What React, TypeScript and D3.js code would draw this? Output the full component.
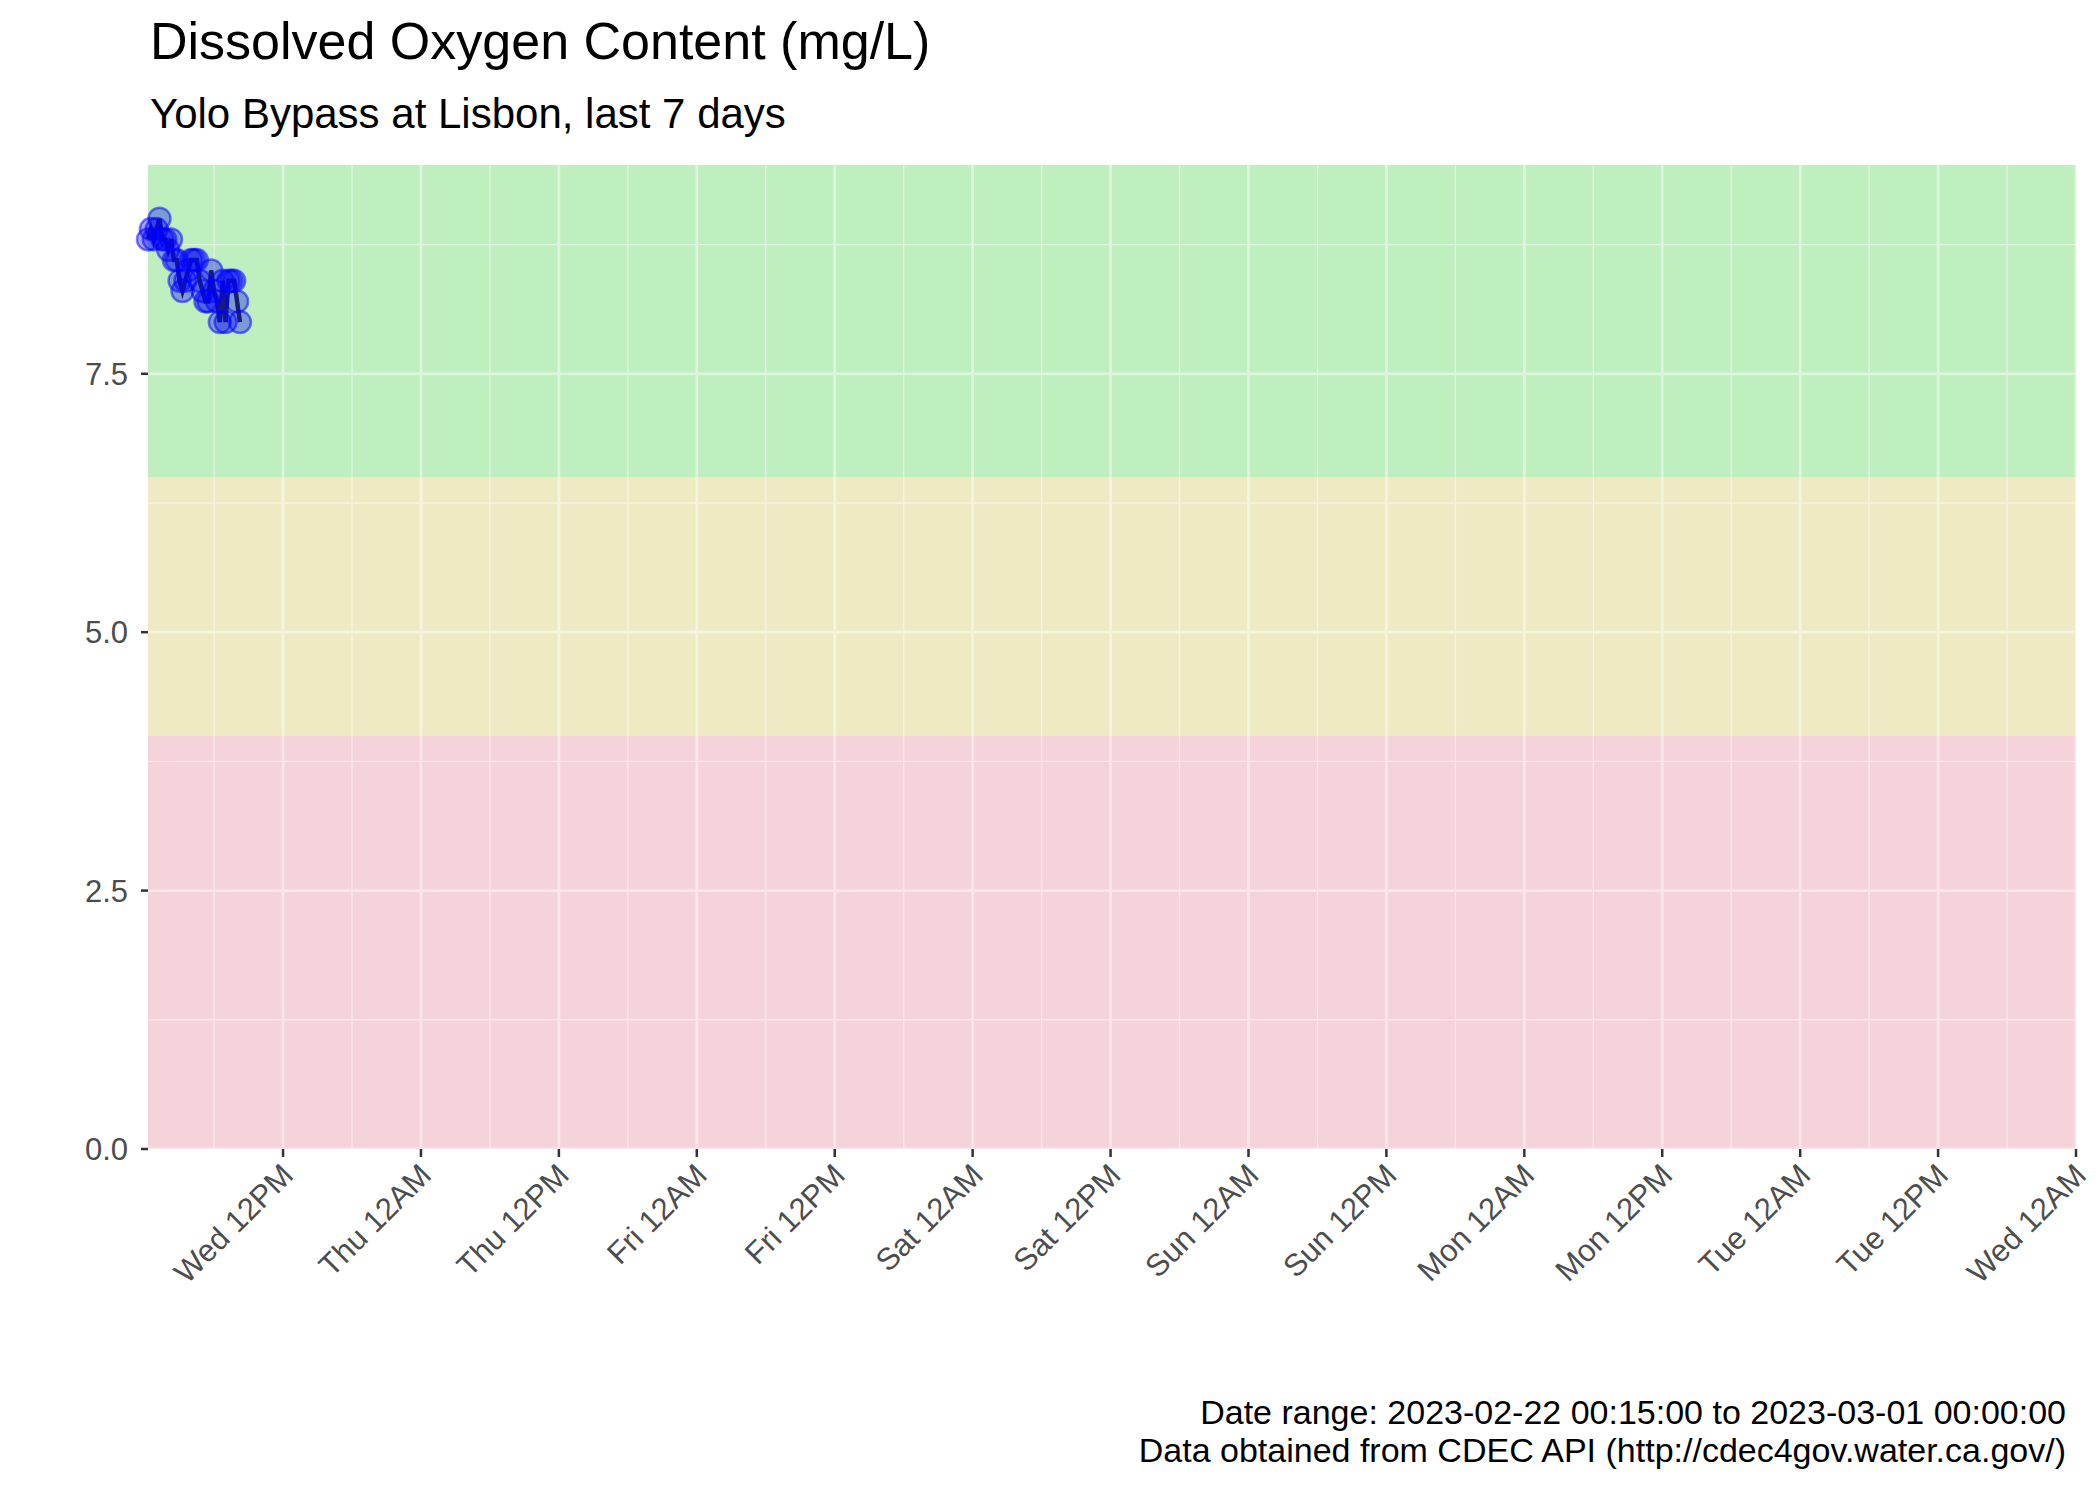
import * as React from "react";
import * as d3 from "d3";

const START = new Date(2023, 1, 22, 0, 15);
const END = new Date(2023, 2, 1, 0, 0);
// dissolved oxygen readings, every 15 minutes from START
const doValues = [
  8.8, 8.9, 8.8, 8.9, 9.0, 8.8, 8.8, 8.7, 8.8, 8.6, 8.6, 8.4, 8.3, 8.4, 8.5, 8.6, 8.6,
  8.6, 8.4, 8.3, 8.2, 8.2, 8.5, 8.3, 8.2, 8.0, 8.4, 8.0, 8.4, 8.4, 8.4, 8.2, 8.0,
];
const bands = [
  { lo: 0, hi: 4, color: "#f5d3da" },
  { lo: 4, hi: 6.5, color: "#eeebc4" },
  { lo: 6.5, hi: 9.52, color: "#bfeebf" },
];
const yTicks = [0, 2.5, 5, 7.5];
const dayNames = ["Sun", "Mon", "Tue", "Wed", "Thu", "Fri", "Sat"];

const W = 2100, H = 1500;
const M = { left: 148, right: 2076, top: 165, bottom: 1149 };

export default function App() {
  const data = doValues.map((v, i) => ({ t: new Date(START.getTime() + i * 15 * 60000), v }));
  const x = d3.scaleTime().domain([START, END]).range([M.left, M.right]);
  const y = d3.scaleLinear().domain([0, 9.52]).range([M.bottom, M.top]);
  const majorX = d3.timeHour.every(12)!.range(START, new Date(END.getTime() + 1));
  const minorX = d3.timeHour.every(6)!.range(START, new Date(END.getTime() + 1)).filter((d) => d.getHours() % 12 !== 0);
  const minorY = [1.25, 3.75, 6.25, 8.75];
  const line = d3.line<{ t: Date; v: number }>().x((d) => x(d.t)).y((d) => y(d.v));
  const font = "Liberation Sans, Arial, sans-serif";
  const fmt = (d: Date) => `${dayNames[d.getDay()]} 12${d.getHours() < 12 ? "AM" : "PM"}`;

  return (
    <svg width={W} height={H} style={{ position: "absolute", left: 0, top: 0 }} fontFamily={font}>
      <rect width={W} height={H} fill="#fff" />
      <rect x={M.left} y={M.top} width={M.right - M.left} height={M.bottom - M.top} fill="#ebebeb" />
      {bands.map((b) => (
        <rect key={b.lo} x={M.left} width={M.right - M.left} y={y(b.hi)} height={y(b.lo) - y(b.hi)} fill={b.color} />
      ))}
      <g stroke="#fff" opacity={0.45}>
        {minorY.map((v) => <line key={v} x1={M.left} x2={M.right} y1={y(v)} y2={y(v)} strokeWidth={1.4} />)}
        {minorX.map((d) => <line key={+d} x1={x(d)} x2={x(d)} y1={M.top} y2={M.bottom} strokeWidth={1.4} />)}
        {yTicks.map((v) => <line key={v} x1={M.left} x2={M.right} y1={y(v)} y2={y(v)} strokeWidth={2.8} />)}
        {majorX.map((d) => <line key={+d} x1={x(d)} x2={x(d)} y1={M.top} y2={M.bottom} strokeWidth={2.8} />)}
      </g>
      <path d={line(data)!} fill="none" stroke="#000" strokeOpacity={0.8} strokeWidth={4.5} />
      {data.map((d, i) => (
        <circle key={i} cx={x(d.t)} cy={y(d.v)} r={11} fill="#0000ff" fillOpacity={0.35} stroke="#0000ff" strokeOpacity={0.5} strokeWidth={2.5} />
      ))}
      {yTicks.map((v) => (
        <g key={v}>
          <line x1={M.left - 7} x2={M.left} y1={y(v)} y2={y(v)} stroke="#333" strokeWidth={2.5} />
          <text x={M.left - 20} y={y(v)} dy="0.36em" textAnchor="end" fontSize={31} fill="#4d4d4d">{v.toFixed(1)}</text>
        </g>
      ))}
      {majorX.map((d) => (
        <g key={+d}>
          <line x1={x(d)} x2={x(d)} y1={M.bottom} y2={M.bottom + 8} stroke="#333" strokeWidth={2.5} />
          <text transform={`translate(${x(d) + 12},${M.bottom + 28}) rotate(-45)`} textAnchor="end" fontSize={31} fill="#4d4d4d">{fmt(d)}</text>
        </g>
      ))}
      <text x={150} y={59} fontSize={52} fill="#000">Dissolved Oxygen Content (mg/L)</text>
      <text x={150} y={128} fontSize={42} fill="#000">Yolo Bypass at Lisbon, last 7 days</text>
      <text x={2066} y={1424} textAnchor="end" fontSize={34} fill="#000">Date range: 2023-02-22 00:15:00 to 2023-03-01 00:00:00</text>
      <text x={2066} y={1462} textAnchor="end" fontSize={34} fill="#000">Data obtained from CDEC API (http://cdec4gov.water.ca.gov/)</text>
    </svg>
  );
}
